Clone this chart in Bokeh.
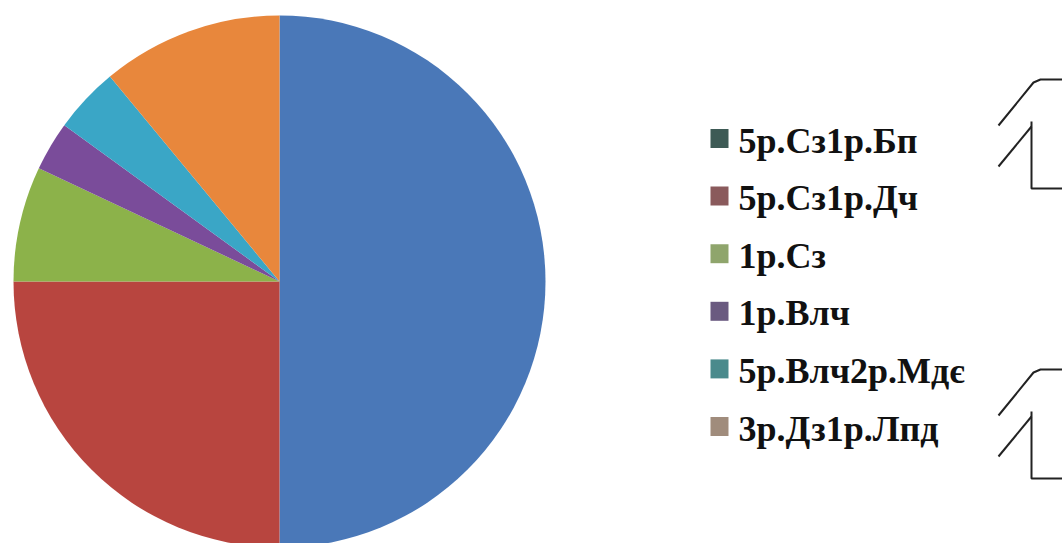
import math
from bokeh.plotting import figure
from bokeh.models import ColumnDataSource
from bokeh.core.properties import value
from bokeh.embed import file_html
from bokeh.resources import INLINE

# ---- data ----
labels = ["5р.Сз1р.Бп", "5р.Сз1р.Дч", "1р.Сз", "1р.Влч", "5р.Влч2р.Мдє", "3р.Дз1р.Лпд"]
values = [50, 25, 7, 3, 4, 11]
pie_colors = ["#4a78b8", "#b8453f", "#8cb24a", "#7a4c9a", "#3aa6c6", "#e8873c"]
legend_colors = ["#3d5a55", "#8a5a5c", "#8fa56c", "#6a5a80", "#4a8a8c", "#a08c7c"]

W, H = 1062, 543
p = figure(width=W, height=H, x_range=(0, W), y_range=(0, H),
           output_backend="svg", toolbar_location=None, min_border=0)
p.axis.visible = False
p.grid.visible = False
p.outline_line_color = None
p.background_fill_color = "white"
p.border_fill_color = "white"

# pie (clockwise from 12 o'clock)
total = float(sum(values))
starts, ends = [], []
cum = 0.0
for v in values:
    a0 = math.pi / 2 - 2 * math.pi * cum / total
    cum += v
    a1 = math.pi / 2 - 2 * math.pi * cum / total
    starts.append(a0)
    ends.append(a1)
src = ColumnDataSource(dict(start=starts, end=ends, color=pie_colors, label=labels))
cx, cy, r = 279, H - 281, 266
p.wedge(x=cx, y=cy, radius=r, start_angle="start", end_angle="end",
        direction="clock", fill_color="color", line_color=None, source=src)

# legend (manual)
lx, ly0, dy = 719, H - 138, 57.6
ys = [ly0 - i * dy for i in range(len(labels))]
p.rect(x=[lx] * len(labels), y=ys, width=18, height=19,
       fill_color=legend_colors, line_color=None)
p.text(x=[738] * len(labels), y=[v - 2 for v in ys], text=labels,
       text_font=value("Liberation Serif"), text_font_style="bold",
       text_font_size="36px", text_baseline="middle", text_align="left",
       text_color="#111111")

# scan decorations (bracket marks at the right edge)
for off in (0, 290):
    p.line([998, 1033, 1040, 1062], [H - (125 + off), H - (82 + off), H - (79 + off), H - (79 + off)],
           line_color="#222222", line_width=2)
    p.line([998, 1031], [H - (166 + off), H - (126 + off)], line_color="#222222", line_width=2)
    p.line([1031, 1031, 1062], [H - (121 + off), H - (188 + off), H - (188 + off)],
           line_color="#222222", line_width=2)

open("out.html", "w").write(file_html(p, INLINE))
